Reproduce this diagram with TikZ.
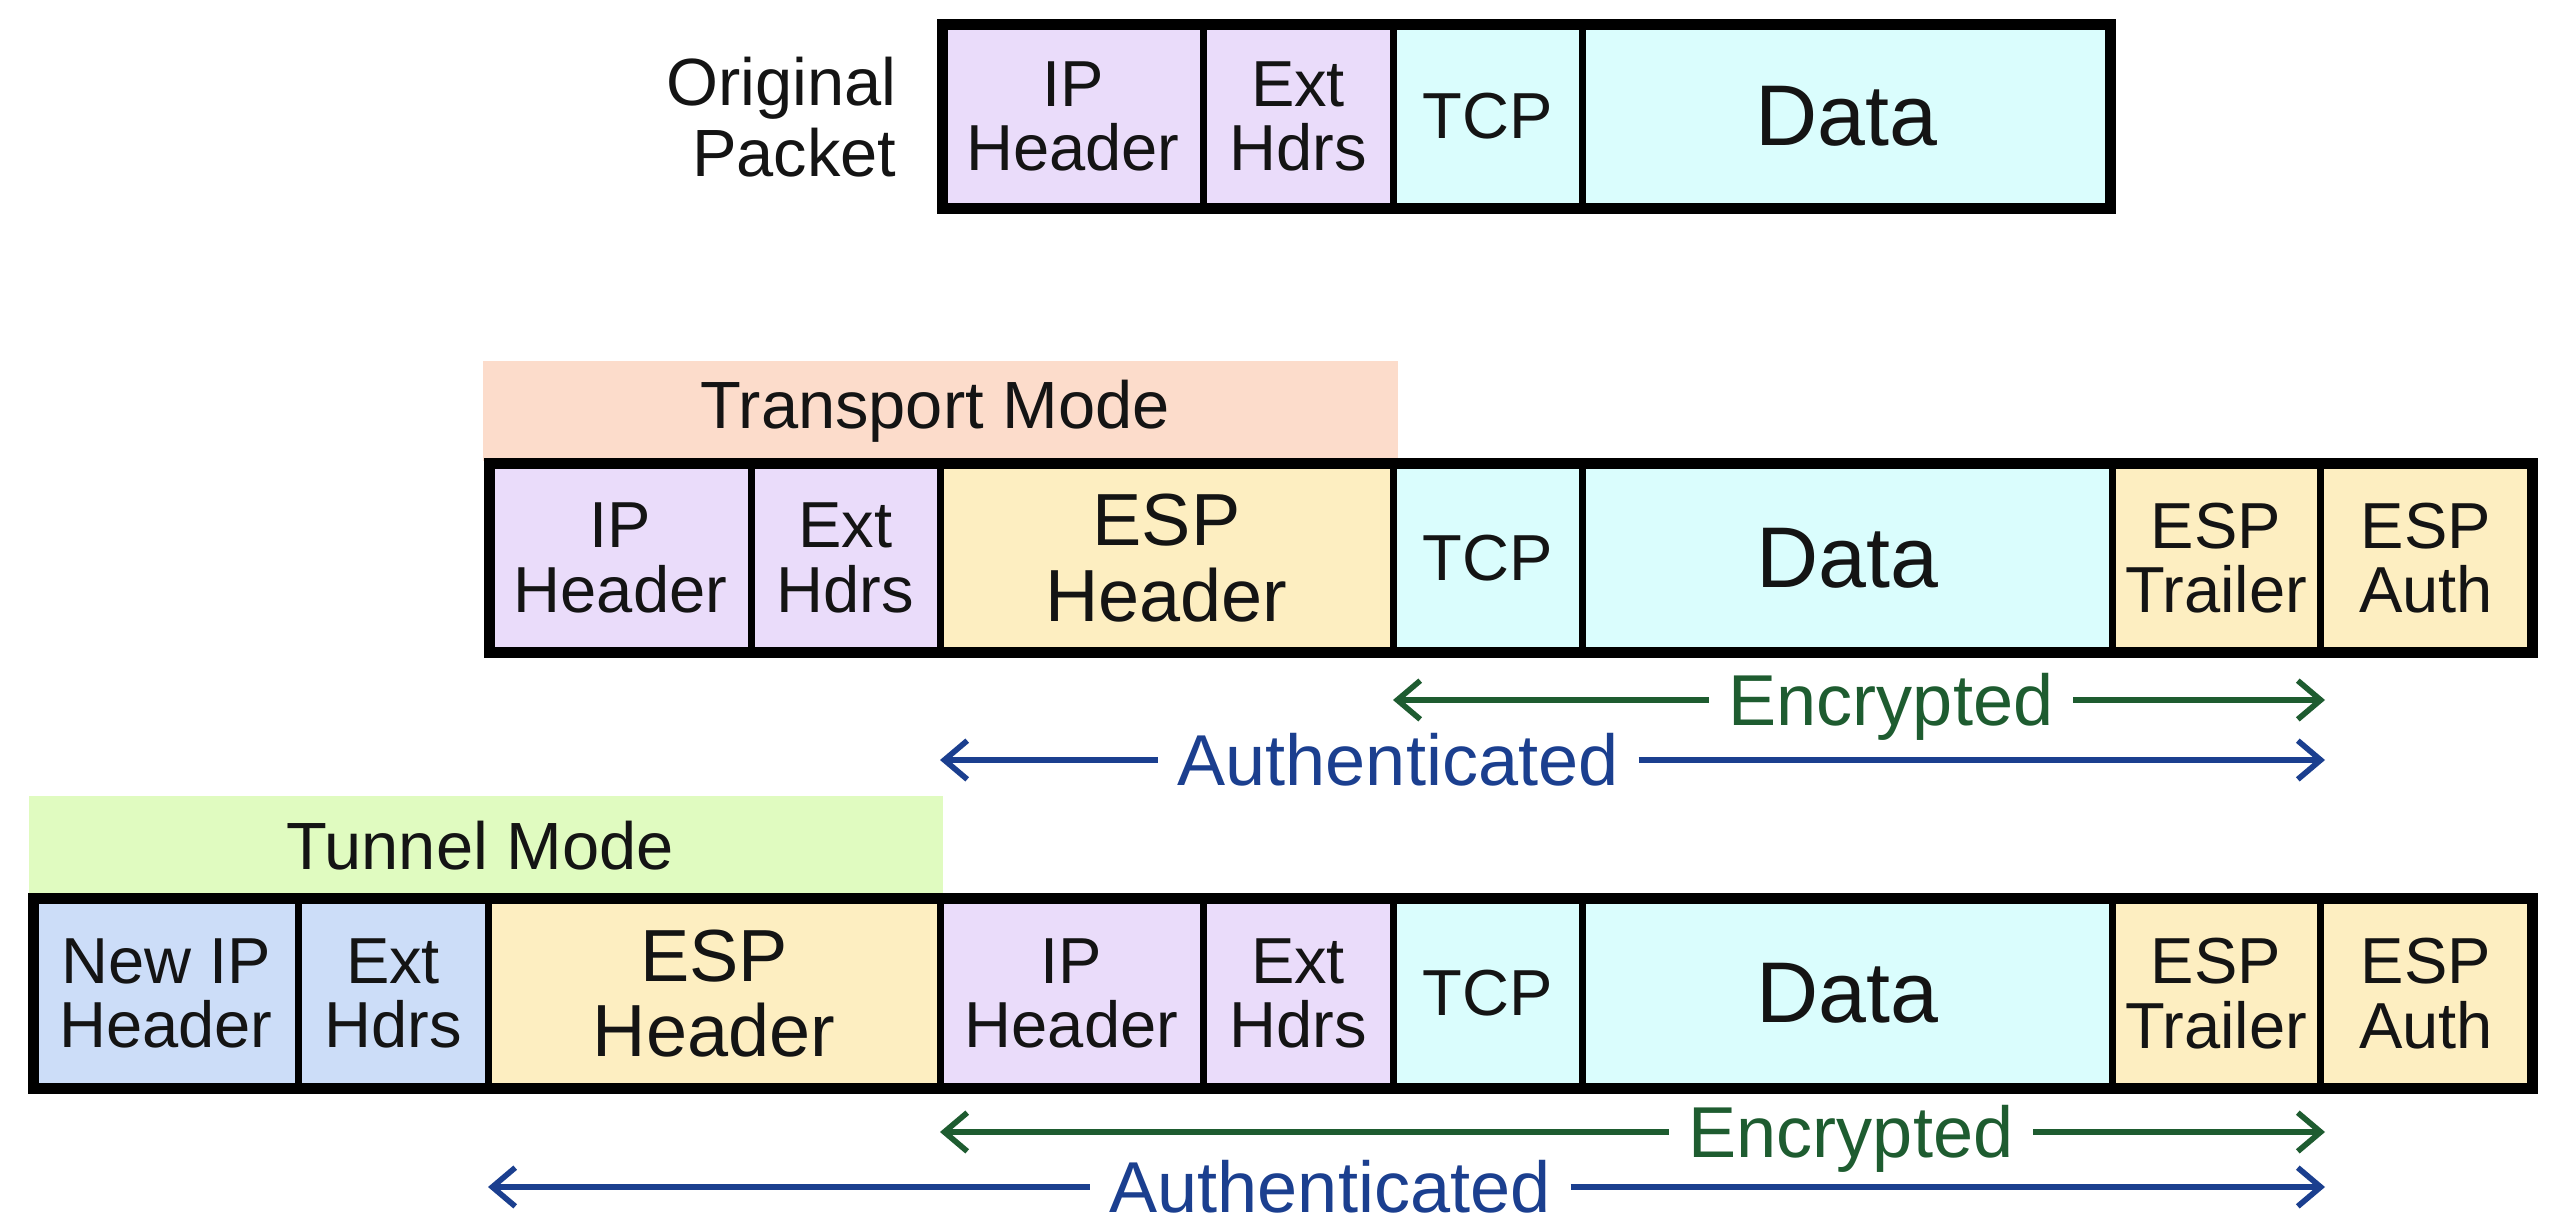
\documentclass[tikz,border=0pt]{standalone}
\usepackage{fontspec}
\setmainfont{Liberation Sans}
\usetikzlibrary{arrows.meta}
\definecolor{lav}{HTML}{EADCFA}
\definecolor{cyn}{HTML}{DAFDFD}
\definecolor{tan}{HTML}{FDEEC1}
\definecolor{nblue}{HTML}{CCDDF8}
\definecolor{salmon}{HTML}{FCDCCB}
\definecolor{lgreen}{HTML}{E0FBC0}
\definecolor{encgreen}{HTML}{1E5C30}
\definecolor{authblue}{HTML}{1B3F8F}
\definecolor{ink}{HTML}{141414}
\newcommand\fcell{\fontsize{18.5}{18.3}\selectfont}
\newcommand\fesp{\fontsize{21}{21.5}\selectfont}
\newcommand\fdata{\fontsize{24.5}{25}\selectfont}
\newcommand\flab{\fontsize{19}{20}\selectfont}
\newcommand\farr{\fontsize{20.5}{21}\selectfont}
% name, x1, x2, y1, y2, colour, font, text
\newcommand\pcell[8]{%
  \node[cellbox, fill=#6, font=#7, minimum width={(#3-#2)*0.01cm},
        minimum height={(#5-#4)*0.01cm}] (#1) at ({(#2+#3)/2},{(#4+#5)/2}) {#8};}
\begin{document}
\begin{tikzpicture}[x=0.01cm,y=-0.01cm,
  cellbox/.style={draw=none, inner sep=0pt, align=center, text=ink},
  divider/.style={draw=black, line width=1.9pt},
  outer/.style={draw=black, line width=3.1pt},
  modebar/.style={inner sep=0pt, text=ink, font=\flab},
  arrlab/.style={inner sep=0pt, inner xsep=5.5pt, font=\farr, text height=14.7pt, text depth=0pt},
  arr/.style={line width=1.6pt, -{Straight Barb[length=6.5pt,width=11pt,line width=1.6pt]}}
]
\useasboundingbox (0,0) rectangle (2550,1227);
\fill[white] (0,0) rectangle (2550,1227);

% ---------- Original packet ----------
\node[anchor=east, align=right, inner sep=0pt, font=\flab, text=ink] (olab) at (897,117) {Original\\Packet};
\pcell{o1}{943}{1203}{25}{208}{lav}{\fcell}{IP\\Header}
\pcell{o2}{1203}{1393}{25}{208}{lav}{\fcell}{Ext\\Hdrs}
\pcell{o3}{1393}{1582}{25}{208}{cyn}{\fcell}{TCP}
\pcell{o4}{1582}{2110}{25}{208}{cyn}{\fdata}{Data}
\foreach \n in {o1,o2,o3} \draw[divider] (\n.north east) -- (\n.south east);
\draw[outer] (o1.north west) rectangle (o4.south east);

% ---------- Transport mode ----------
\node[modebar, fill=salmon, minimum width={915*0.01cm}, minimum height={100*0.01cm}] (tbar) at (940,411) {};
\node[modebar] (tbartext) at (935,411) {Transport Mode};
\pcell{t1}{490}{751}{464}{652}{lav}{\fcell}{IP\\Header}
\pcell{t2}{751}{940}{464}{652}{lav}{\fcell}{Ext\\Hdrs}
\pcell{t3}{940}{1393}{464}{652}{tan}{\fesp}{ESP\\Header}
\pcell{t4}{1393}{1582}{464}{652}{cyn}{\fcell}{TCP}
\pcell{t5}{1582}{2112}{464}{652}{cyn}{\fdata}{Data}
\pcell{t6}{2112}{2320}{464}{652}{tan}{\fcell}{ESP\\Trailer}
\pcell{t7}{2320}{2532}{464}{652}{tan}{\fcell}{ESP\\Auth}
\foreach \n in {t1,t2,t3,t4,t5,t6} \draw[divider] (\n.north east) -- (\n.south east);
\draw[outer] (t1.north west) rectangle (t7.south east);

\coordinate (tencL) at (1393,700);
\coordinate (tencR) at (2325,700);
\node[arrlab, text=encgreen] (tenc) at (1891,700) {Encrypted};
\draw[arr, encgreen] (tenc.west) -- (tencL);
\draw[arr, encgreen] (tenc.east) -- (tencR);
\coordinate (tautL) at (940,760);
\coordinate (tautR) at (2325,760);
\node[arrlab, text=authblue] (taut) at (1398,760) {Authenticated};
\draw[arr, authblue] (taut.west) -- (tautL);
\draw[arr, authblue] (taut.east) -- (tautR);

% ---------- Tunnel mode ----------
\node[modebar, fill=lgreen, minimum width={914*0.01cm}, minimum height={100*0.01cm}] (nbar) at (486,846) {};
\node[modebar] (nbartext) at (480,846) {Tunnel Mode};
\pcell{n1}{34}{298}{899}{1088}{nblue}{\fcell}{New IP\\Header}
\pcell{n2}{298}{488}{899}{1088}{nblue}{\fcell}{Ext\\Hdrs}
\pcell{n3}{488}{940}{899}{1088}{tan}{\fesp}{ESP\\Header}
\pcell{n4}{940}{1203}{899}{1088}{lav}{\fcell}{IP\\Header}
\pcell{n5}{1203}{1393}{899}{1088}{lav}{\fcell}{Ext\\Hdrs}
\pcell{n6}{1393}{1582}{899}{1088}{cyn}{\fcell}{TCP}
\pcell{n7}{1582}{2112}{899}{1088}{cyn}{\fdata}{Data}
\pcell{n8}{2112}{2320}{899}{1088}{tan}{\fcell}{ESP\\Trailer}
\pcell{n9}{2320}{2532}{899}{1088}{tan}{\fcell}{ESP\\Auth}
\foreach \n in {n1,n2,n3,n4,n5,n6,n7,n8} \draw[divider] (\n.north east) -- (\n.south east);
\draw[outer] (n1.north west) rectangle (n9.south east);

\coordinate (nencL) at (940,1132);
\coordinate (nencR) at (2325,1132);
\node[arrlab, text=encgreen] (nenc) at (1851,1132) {Encrypted};
\draw[arr, encgreen] (nenc.west) -- (nencL);
\draw[arr, encgreen] (nenc.east) -- (nencR);
\coordinate (nautL) at (488,1187);
\coordinate (nautR) at (2325,1187);
\node[arrlab, text=authblue] (naut) at (1330,1187) {Authenticated};
\draw[arr, authblue] (naut.west) -- (nautL);
\draw[arr, authblue] (naut.east) -- (nautR);
\end{tikzpicture}
\end{document}
